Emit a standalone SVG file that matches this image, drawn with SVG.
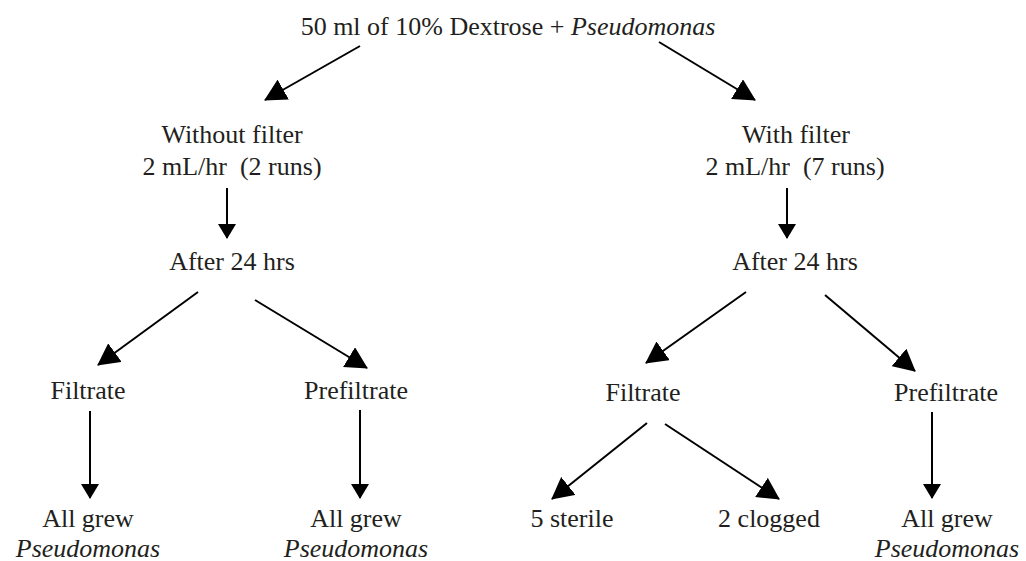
<svg xmlns="http://www.w3.org/2000/svg" width="1026" height="561" viewBox="0 0 1026 561">
<style>
text{font-family:"Liberation Serif","Times New Roman",serif;font-size:26px;fill:#231f20;text-anchor:middle;white-space:pre}
.it{font-style:italic}
.c line{stroke:#000;stroke-width:2}
.d{marker-end:url(#big)}
.v{marker-end:url(#small)}
</style>
<defs>
<marker id="big" markerUnits="userSpaceOnUse" viewBox="0 0 22 23" markerWidth="22" markerHeight="23" refX="21" refY="11.5" orient="auto"><path d="M0,0 L22,11.5 L0,23 z" fill="#000"/></marker>
<marker id="small" markerUnits="userSpaceOnUse" viewBox="0 0 15 18" markerWidth="15" markerHeight="18" refX="14" refY="9" orient="auto"><path d="M0,0 L15,9 L0,18 z" fill="#000"/></marker>
</defs>
<rect width="1026" height="561" fill="#fff"/>
<g class="c" id="connectors">
<line class="d" x1="360" y1="46" x2="265" y2="100"/>
<line class="d" x1="659" y1="42" x2="755" y2="100"/>
<line class="v" x1="227" y1="188" x2="227" y2="238"/>
<line class="v" x1="787" y1="188" x2="787" y2="238"/>
<line class="d" x1="198" y1="292" x2="98" y2="365"/>
<line class="d" x1="255" y1="300" x2="367" y2="368"/>
<line class="d" x1="746" y1="292" x2="646" y2="363"/>
<line class="d" x1="825" y1="295" x2="915" y2="371"/>
<line class="v" x1="90" y1="411" x2="90" y2="498"/>
<line class="v" x1="360" y1="410" x2="360" y2="498"/>
<line class="d" x1="647" y1="423" x2="552" y2="499"/>
<line class="d" x1="665" y1="424" x2="779" y2="499"/>
<line class="v" x1="932" y1="412" x2="932" y2="498"/>
</g>
<g id="root"><text x="508" y="35">50 ml of 10% Dextrose + <tspan class="it">Pseudomonas</tspan></text></g>
<g id="without"><text x="232" y="143">Without filter</text><text x="232" y="175">2 mL/hr  (2 runs)</text></g>
<g id="with"><text x="796" y="143">With filter</text><text x="795" y="175">2 mL/hr  (7 runs)</text></g>
<g id="after-left"><text x="232" y="270">After 24 hrs</text></g>
<g id="after-right"><text x="795" y="270">After 24 hrs</text></g>
<g id="filtrate-left"><text x="88" y="399">Filtrate</text></g>
<g id="prefiltrate-left"><text x="356" y="399">Prefiltrate</text></g>
<g id="filtrate-right"><text x="643" y="401">Filtrate</text></g>
<g id="prefiltrate-right"><text x="946" y="401">Prefiltrate</text></g>
<g id="grew-1"><text x="88" y="527">All grew</text><text class="it" x="88" y="557">Pseudomonas</text></g>
<g id="grew-2"><text x="356" y="527">All grew</text><text class="it" x="356" y="557">Pseudomonas</text></g>
<g id="sterile"><text x="572" y="527">5 sterile</text></g>
<g id="clogged"><text x="769" y="527">2 clogged</text></g>
<g id="grew-3"><text x="947" y="527">All grew</text><text class="it" x="947" y="557">Pseudomonas</text></g>
</svg>
